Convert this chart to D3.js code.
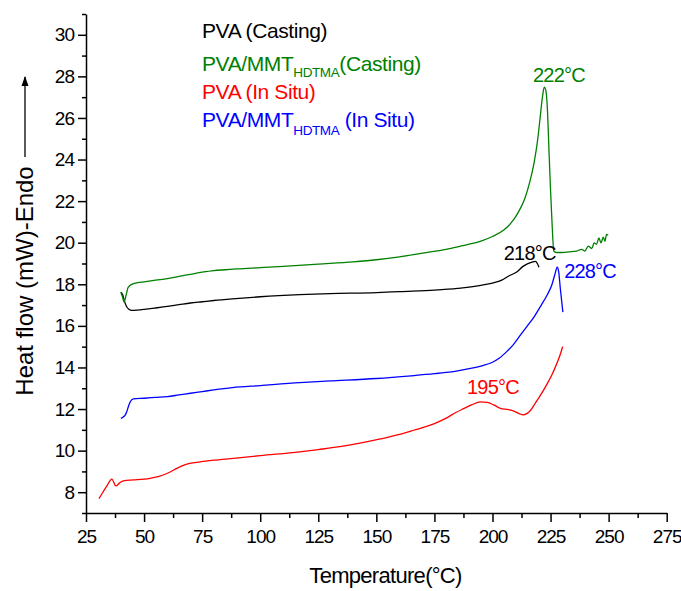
<!DOCTYPE html>
<html><head><meta charset="utf-8">
<script src="https://cdn.jsdelivr.net/npm/d3@7"></script>
<style>
body{margin:0;background:#fff}
text{font-family:"Liberation Sans",Arial,Helvetica,sans-serif}
</style>
</head><body>
<svg id="chart" width="681" height="591"></svg>
<script>
// ---- data ----
const xTickValues = [25, 50, 75, 100, 125, 150, 175, 200, 225, 250, 275];
const xMinorValues = [37.5, 62.5, 87.5, 112.5, 137.5, 162.5, 187.5, 212.5, 237.5, 262.5];
const yTickValues = [8, 10, 12, 14, 16, 18, 20, 22, 24, 26, 28, 30];
const yMinorValues = [7, 9, 11, 13, 15, 17, 19, 21, 23, 25, 27, 29, 31];

const pvaCasting = [[40,17.62],[40.8,17.5],[41.5,17.2],[42.5,16.92],[43.5,16.8],[44.7,16.75],[47,16.76],[50,16.79],[55,16.86],[60,16.94],[65,17.02],[70,17.1],[75,17.16],[80,17.22],[88,17.3],[100,17.4],[117,17.5],[130,17.55],[150,17.6],[160,17.65],[175,17.72],[185,17.8],[190,17.86],[195,17.95],[200,18.06],[204,18.2],[207,18.4],[210.6,18.6],[213,18.85],[215,18.98],[217,19.07],[218.5,19.1],[219.3,19.0],[220,18.82]];

const pvaMmtCasting = [[40,17.62],[40.7,17.4],[41.4,17.14],[42.3,17.5],[43.2,17.86],[45.4,18.03],[50,18.12],[55,18.2],[60,18.27],[65,18.38],[70,18.48],[75,18.58],[80,18.66],[85,18.7],[90,18.74],[100,18.8],[110,18.86],[125,18.97],[140,19.08],[150,19.18],[160,19.32],[170,19.5],[180,19.68],[185,19.8],[190,19.93],[195,20.08],[200,20.3],[205,20.62],[208,20.95],[210,21.25],[212,21.65],[214,22.15],[216,22.9],[218,23.9],[219.5,25.0],[220.5,26.0],[221.5,27.0],[222.3,27.48],[223,27.3],[223.7,26.3],[224.3,24.5],[225,22.5],[225.7,20.8],[226.4,19.6],[227.5,19.53],[230,19.53],[233,19.56],[236.2,19.6],[238.4,19.68],[239.8,19.6],[241.2,19.84],[242.7,19.72],[243.8,19.99],[244.8,19.92],[245.8,20.23],[246.7,19.99],[247.7,20.27],[248.4,20.07],[249.1,20.4],[249.8,20.36]];

const pvaInSitu = [[30.6,7.69],[32,7.95],[34,8.3],[36.1,8.63],[37.9,8.3],[39.5,8.45],[41.1,8.55],[45.4,8.59],[50,8.63],[52.6,8.67],[56,8.75],[59.8,8.9],[62,9.02],[64.1,9.15],[68.4,9.35],[74.2,9.46],[80,9.54],[88.6,9.63],[100,9.76],[117,9.94],[125,10.05],[135,10.2],[151.7,10.56],[160,10.78],[166,10.98],[175,11.3],[180.5,11.59],[184,11.82],[187.6,12.02],[191,12.2],[194.8,12.34],[197.7,12.32],[200.5,12.2],[203.4,12.03],[207,11.97],[209.2,11.9],[211.5,11.78],[213.2,11.72],[216.4,11.94],[218.5,12.3],[220,12.55],[223.6,13.22],[226,13.75],[229.3,14.67],[230.2,15.0]];

const pvaMmtInSitu = [[40,11.55],[41,11.62],[41.8,11.7],[42.5,11.86],[43.2,12.1],[44,12.34],[45.4,12.49],[50,12.52],[55,12.56],[60,12.6],[65,12.68],[70,12.76],[75,12.84],[80,12.92],[88,13.03],[100,13.13],[117,13.27],[130,13.35],[150,13.47],[165,13.6],[175,13.7],[180,13.76],[185,13.84],[190,13.94],[195,14.07],[200,14.25],[203,14.45],[206,14.75],[209,15.1],[212,15.55],[215,16.0],[218,16.45],[221,17.0],[223.6,17.5],[225.5,17.95],[226.8,18.45],[227.9,18.82],[228.5,18.6],[229.2,17.8],[230.3,16.66]];

const seriesNames = ["PVA (Casting)", "PVA/MMT", "PVA (In Situ)", "PVA/MMT"];
const seriesColors = ["#000000", "#008000", "#ff0000", "#0000ff"];

const annotations = [
  {text: "222°C", t: 228.6, v: 27.74, color: "#008000"},
  {text: "218°C", t: 216.0, v: 19.16, color: "#000000"},
  {text: "228°C", t: 242.0, v: 18.3, color: "#0000ff"},
  {text: "195°C", t: 200.2, v: 12.7, color: "#ff0000"}
];

// ---- drawing ----
const svg = d3.select("#chart");
const x = d3.scaleLinear().domain([25, 275]).range([86, 666.7]);
const y = d3.scaleLinear().domain([7, 31]).range([513, 14]);

function styleAxis(g) {
  g.select(".domain").attr("stroke", "#000").attr("stroke-width", 1.5);
  g.selectAll(".tick line").attr("stroke", "#000").attr("stroke-width", 1.5);
  g.selectAll(".tick text").attr("fill", "#000").style("font-size", "19px").style("letter-spacing", "-1px")
    .attr("font-family", "Liberation Sans, Arial, sans-serif");
}

// minor ticks
svg.append("g").attr("transform", "translate(0,513)")
  .call(d3.axisBottom(x).tickValues(xMinorValues).tickSize(5).tickFormat(""))
  .call(g => { g.select(".domain").remove(); g.selectAll(".tick line").attr("stroke", "#000").attr("stroke-width", 1.5); });
svg.append("g").attr("transform", "translate(86,0)")
  .call(d3.axisLeft(y).tickValues(yMinorValues).tickSize(4).tickFormat(""))
  .call(g => { g.select(".domain").remove(); g.selectAll(".tick line").attr("stroke", "#000").attr("stroke-width", 1.5); });

// major axes
svg.append("g").attr("transform", "translate(0,513)")
  .call(d3.axisBottom(x).tickValues(xTickValues).tickSize(9).tickPadding(8).tickSizeOuter(0))
  .call(styleAxis);
svg.append("g").attr("transform", "translate(86,0)")
  .call(d3.axisLeft(y).tickValues(yTickValues).tickSize(8).tickPadding(4).tickSizeOuter(0))
  .call(styleAxis);

// curves
const line = d3.line().x(d => x(d[0])).y(d => y(d[1])).curve(d3.curveMonotoneX);
const allSeries = [pvaCasting, pvaMmtCasting, pvaInSitu, pvaMmtInSitu];
allSeries.forEach((s, i) => {
  svg.append("path").datum(s).attr("d", line)
    .attr("fill", "none").attr("stroke", seriesColors[i]).attr("stroke-width", 1.3)
    .attr("stroke-linejoin", "round");
});

// annotations
annotations.forEach(a => {
  svg.append("text").attr("x", x(a.t)).attr("y", y(a.v))
    .attr("text-anchor", "middle").attr("fill", a.color)
    .style("font-size", "20px").style("letter-spacing", "-0.8px").text(a.text);
});

// legend
const legend = svg.append("g").attr("transform", "translate(202,0)");
const legendBaselines = [38, 71, 99, 127];
const subs = [null, "HDTMA", null, "HDTMA"];
const tails = [null, "(Casting)", null, " (In Situ)"];
const subShift = [0, 6, 0, 8];
seriesNames.forEach((n, i) => {
  const t = legend.append("text").attr("x", 0).attr("y", legendBaselines[i])
    .attr("fill", seriesColors[i]).style("font-size", "21px").style("letter-spacing", "-0.4px")
    .attr("xml:space", "preserve");
  t.append("tspan").text(n);
  if (subs[i]) {
    t.append("tspan").attr("dy", subShift[i]).style("font-size", "13.5px").style("letter-spacing", "-0.4px").text(subs[i]);
    t.append("tspan").attr("dy", -subShift[i]).text(tails[i]);
  }
});

// axis titles
svg.append("text").attr("x", 385.5).attr("y", 583).attr("text-anchor", "middle")
  .style("font-size", "22px").style("letter-spacing", "-0.7px").text("Temperature(°C)");

svg.append("text").attr("transform", "translate(33,281) rotate(-90)")
  .attr("text-anchor", "middle").style("font-size", "24px").text("Heat flow (mW)-Endo");

// arrow next to y title
svg.append("defs").append("marker").attr("id", "ah").attr("viewBox", "0 0 10 10")
  .attr("refX", 9).attr("refY", 5).attr("markerWidth", 10).attr("markerHeight", 10)
  .attr("markerUnits", "userSpaceOnUse").attr("orient", "auto")
  .append("path").attr("d", "M0,1.5 L10,5 L0,8.5 Z").attr("fill", "#000");
svg.append("line").attr("x1", 25).attr("x2", 25).attr("y1", 157).attr("y2", 77)
  .attr("stroke", "#000").attr("stroke-width", 1.3).attr("marker-end", "url(#ah)");
</script>
</body></html>
